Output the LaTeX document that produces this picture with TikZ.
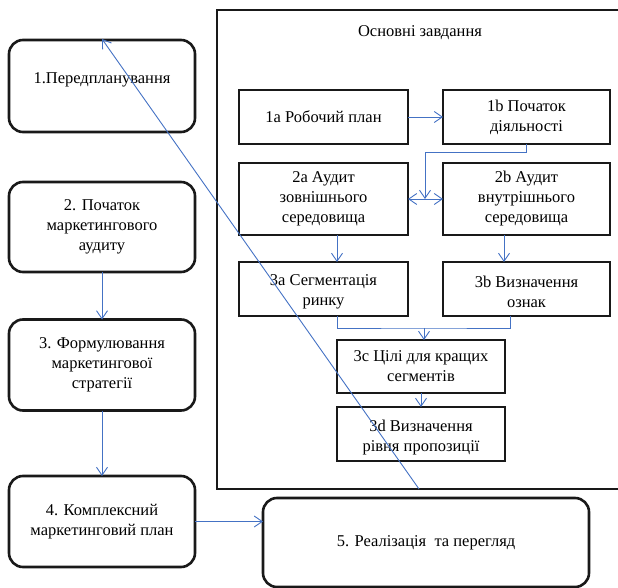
\documentclass[tikz,border=0pt]{standalone}
\usepackage{fontspec}
\setmainfont{Liberation Serif}
\usetikzlibrary{arrows.meta}
\definecolor{arrblue}{RGB}{68,114,196}
\begin{document}
\begin{tikzpicture}[x=1pt,y=-1pt,
  every node/.style={font=\fontsize{16.5}{20}\selectfont, inner sep=0pt, outer sep=0pt, align=center},
  rbox/.style={draw=black!90, line width=2.6pt, rounded corners=14pt, minimum width=186pt},
  sbox/.style={draw=black!90, line width=2.6pt},
  arr/.style={draw=arrblue, line width=0.9pt, -{Straight Barb[length=8pt,width=11pt]}},
  arrtwo/.style={draw=arrblue, line width=0.9pt, {Straight Barb[length=8pt,width=11pt]}-{Straight Barb[length=8pt,width=11pt]}},
  bline/.style={draw=arrblue, line width=0.9pt}]
\useasboundingbox (0,0) rectangle (618,588);
% outer frame (right side outside the picture)
\draw[line width=2.6pt, black!90] (618,10) -- (217,10) -- (217,489) -- (618,489);
\node (title) at (420,33) {Основні завдання};
% left column
\node[rbox, minimum height=92pt] (b1) at (102,86) {};
\node (t1) at (102,80) {1.Передпланування};
\node[rbox, minimum height=90pt] (b2) at (102,227) {2. Початок\\маркетингового\\аудиту};
\node[rbox, minimum height=91pt] (b3) at (102,365) {3. Формулювання\\маркетингової\\стратегії};
\node[rbox, minimum height=91pt] (b4) at (102,521.5) {4. Комплексний\\маркетинговий план};
\node[rbox, minimum width=326pt, minimum height=89pt] (b5) at (426,542.5) {5. Реалізація\ \ та перегляд};
% inner boxes
\node[sbox, minimum width=169pt, minimum height=54pt] (a1) at (323.5,117) {1a Робочий план};
\node[sbox, minimum width=167pt, minimum height=54pt] (b1b) at (526.5,117) {1b Початок\\діяльності};
\node[sbox, minimum width=169pt, minimum height=72pt] (a2) at (323.5,199) {2a Аудит\\зовнішнього\\середовища};
\node[sbox, minimum width=167pt, minimum height=72pt] (b2b) at (526.5,199) {2b Аудит\\внутрішнього\\середовища};
\node[minimum width=169pt, minimum height=54pt] (a3) at (323.5,289) {};
\node (t3a) at (323.5,292) {3а Сегментація\\ринку};
\node[minimum width=167pt, minimum height=54pt] (b3b) at (526.5,289) {};
\node (t3b) at (526.5,292) {3b Визначення\\ознак};
\node[sbox, minimum width=168pt, minimum height=53pt] (c3) at (421,366.5) {3c Цілі для кращих\\сегментів};
\node[minimum width=168pt, minimum height=54pt] (d3) at (421,434) {};
\node (t3d) at (421,437.5) {3d Визначення\\рівня пропозиції};
\draw[sbox] (d3.north west) rectangle (d3.south east);
\draw[sbox] (a3.north west) rectangle (a3.south east);
\draw[sbox] (b3b.north west) rectangle (b3b.south east);
% connectors left
\draw[arr] (b2.south) -- (b3.north);
\draw[arr] (b3.south) -- (b4.north);
\draw[arr] (b4.east) -- (b4.east -| b5.west);
% connectors inner
\draw[arr] (a1.east) -- (b1b.west);
\coordinate (j1) at (425,152);
\draw[arr] (b1b.south) |- (j1) -- (j1 |- a2.east);
\draw[arrtwo] (a2.east) -- (b2b.west);
\draw[arr] ([xshift=13.5pt]a2.south) -- ([xshift=13.5pt]a3.north);
\draw[arr] ([xshift=-22.5pt]b2b.south) -- ([xshift=-22.5pt]b3b.north);
\coordinate (m1) at (424,328);
\draw[bline] ([xshift=13.5pt]a3.south) |- (m1) -| ([xshift=-16.5pt]b3b.south);
\draw[arr] (m1) -- (m1 |- c3.north);
\draw[arr] (c3.south) -- (d3.north);
% long diagonal
\coordinate (d0) at (419,489);
\draw[arr] (d0) -- ([yshift=1pt]b1.north);
\end{tikzpicture}
\end{document}
